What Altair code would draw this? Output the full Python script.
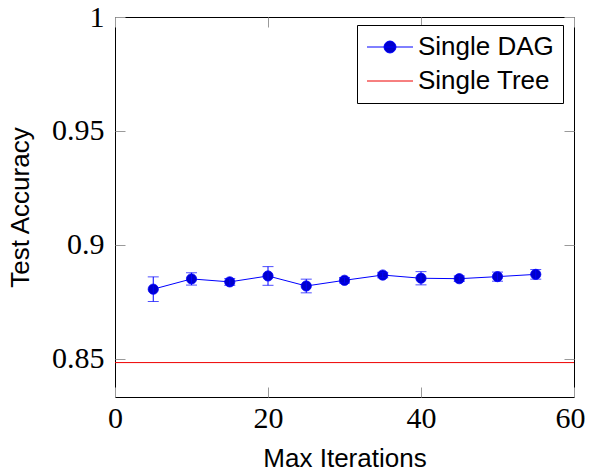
import altair as alt
import pandas as pd

# ---- data ----
iters = [5, 10, 15, 20, 25, 30, 35, 40, 45, 50, 55]
dag_acc = [0.8806, 0.8851, 0.8838, 0.8864, 0.8820, 0.8845, 0.8868, 0.8854, 0.8852, 0.8861, 0.8871]
dag_err = [0.0054, 0.0027, 0.0015, 0.0041, 0.0030, 0.0012, 0.0012, 0.0029, 0.0012, 0.0020, 0.0021]
tree_acc = [0.8484]
series_names = ["Single DAG", "Single Tree"]
x_ticks = [0, 20, 40, 60]
y_ticks = [0.85, 0.9, 0.95, 1.0]

BLUE = "#0000FF"
MARK_FILL = "#0000CC"
RED = "#EE0000"
TICK = "#9a9a9a"
SERIF = "Liberation Serif"
SANS = "Liberation Sans"

dag = pd.DataFrame({
    "iter": iters,
    "acc": dag_acc,
    "lo": [a - e for a, e in zip(dag_acc, dag_err)],
    "hi": [a + e for a, e in zip(dag_acc, dag_err)],
})
tree = pd.DataFrame({"acc": tree_acc})
leg = pd.DataFrame({"series": series_names})

xs = alt.Scale(domain=[0, 60], nice=False, zero=False)
ys = alt.Scale(domain=[0.8333, 1.0], nice=False, zero=False)

common_axis = dict(grid=False, domain=False, tickSize=10, offset=-10,
                   tickColor=TICK, tickWidth=1, labelColor="black",
                   labelFont=SERIF, labelFontSize=30, labelFlush=False,
                   labelOverlap=False, titleFont=SANS, titleFontSize=26,
                   titleFontWeight="normal", titleColor="black")

x_bottom = alt.Axis(values=x_ticks, orient="bottom", title="Max Iterations",
                    labelPadding=6, titleBaseline="alphabetic", titleY=79,
                    labelOffset={"condition": {"test": "datum.value === 60", "value": -4},
                                 "value": 0},
                    **common_axis)
y_left = alt.Axis(values=y_ticks, orient="left", title="Test Accuracy",
                  format=".2~f", labelPadding=11, titleBaseline="alphabetic",
                  titleX=-97, titleAngle=-90, **common_axis)
x_top = alt.Axis(values=x_ticks, orient="top", labels=False, title=None,
                 grid=False, domain=False, tickSize=10, offset=-10,
                 tickColor=TICK, tickWidth=1)
y_right = alt.Axis(values=y_ticks, orient="right", labels=False, title=None,
                   grid=False, domain=False, tickSize=10, offset=-10,
                   tickColor=TICK, tickWidth=1)

line = alt.Chart(dag).mark_line(color=BLUE, strokeWidth=1).encode(
    x=alt.X("iter:Q", scale=xs, axis=x_bottom),
    y=alt.Y("acc:Q", scale=ys, axis=y_left),
)

points = alt.Chart(dag).mark_point(filled=True, fill=MARK_FILL, stroke=BLUE,
                                   strokeWidth=0.8, size=105, opacity=1,
                                   shape="circle").encode(
    x=alt.X("iter:Q", scale=xs, axis=x_top),
    y=alt.Y("acc:Q", scale=ys, axis=y_right),
)

err_rule = alt.Chart(dag).mark_rule(color=BLUE, strokeWidth=1).encode(
    x=alt.X("iter:Q", scale=xs, axis=None),
    y=alt.Y("lo:Q", scale=ys, axis=None),
    y2="hi:Q",
)
cap_lo = alt.Chart(dag).mark_tick(color=BLUE, thickness=1, size=11,
                                  orient="horizontal").encode(
    x=alt.X("iter:Q", scale=xs, axis=None),
    y=alt.Y("lo:Q", scale=ys, axis=None),
)
cap_hi = alt.Chart(dag).mark_tick(color=BLUE, thickness=1, size=11,
                                  orient="horizontal").encode(
    x=alt.X("iter:Q", scale=xs, axis=None),
    y=alt.Y("hi:Q", scale=ys, axis=None),
)

tree_rule = alt.Chart(tree).mark_rule(color=RED, strokeWidth=1).encode(
    y=alt.Y("acc:Q", scale=ys, axis=None),
)

# legend glyphs: unit = sqrt(symbolSize)/2 = 11.5 px
dag_sym = "M-2,0L2,0M0.52,0A0.52,0.52,0,1,1,-0.52,0A0.52,0.52,0,1,1,0.52,0Z"
tree_sym = "M-2,0L2,0"

legend = alt.Legend(
    title=None, orient="none", legendX=242, legendY=8,
    strokeColor="black", fillColor="white", padding=9, cornerRadius=0,
    labelFont=SANS, labelFontSize=26, labelColor="black", labelLimit=0,
    symbolSize=529, symbolStrokeWidth=1, symbolOpacity=1,
    symbolOffset=11, rowPadding=8, labelOffset=15,
)

legend_layer = alt.Chart(leg).mark_point(filled=False, fill=MARK_FILL,
                                         opacity=0).encode(
    stroke=alt.Stroke("series:N",
                      scale=alt.Scale(domain=series_names, range=[BLUE, RED]),
                      legend=legend),
    shape=alt.Shape("series:N",
                    scale=alt.Scale(domain=series_names, range=[dag_sym, tree_sym]),
                    legend=legend),
)

chart = alt.layer(
    tree_rule, line, points, err_rule, cap_lo, cap_hi, legend_layer
).resolve_axis(x="independent", y="independent").properties(
    width=459, height=380,
    autosize=alt.AutoSizeParams(type="none"),
    padding={"left": 107, "top": 9, "right": 11, "bottom": 70},
).configure_view(stroke="black", strokeWidth=1)

chart.save("out.html", embed_options={"renderer": "svg", "actions": False})
